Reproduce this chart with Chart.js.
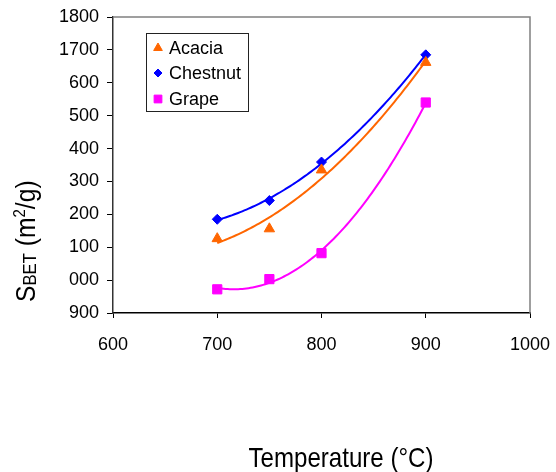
<!DOCTYPE html>
<html>
<head>
<meta charset="utf-8">
<script src="https://cdn.jsdelivr.net/npm/chart.js@4/dist/chart.umd.min.js"></script>
<style>
  html, body { margin: 0; padding: 0; background: #fff; }
  canvas { display: block; }
</style>
</head>
<body>
<canvas id="bet-chart" width="556" height="472"></canvas>
<script>
// Temperaturas de activación (°C)
const temperatures = [700, 750, 800, 900];

// Superficie BET de cada carbón
const acacia = [1126, 1156, 1335, 1662];
const chestnut = [1185, 1242, 1359, 1685];
const grape = [972, 1003, 1082, 1540];

// Etiquetas de los ejes tal como aparecen
const xTickValues = [600, 700, 800, 900, 1000];
const yTickValues = [900, 1000, 1100, 1200, 1300, 1400, 1500, 1600, 1700, 1800];
const yTickLabels = ['900', '000', '100', '200', '300', '400', '500', '600', '1700', '1800'];

const FONT = '"Liberation Sans", Arial, sans-serif';

const series = [
    { label: 'Acacia', values: acacia, color: '#FF6600', style: 'triangle', radius: 6 },
    { label: 'Chestnut', values: chestnut, color: '#0000FF', style: 'rectRot', radius: 5 },
    { label: 'Grape', values: grape, color: '#FF00FF', style: 'rect', radius: 6.5 }
];

// Ajuste polinómico de orden 2 por mínimos cuadrados
function quadFit(xs, ys) {
    const n = xs.length;
    const x0 = 800;
    let s = [0, 0, 0, 0, 0], t = [0, 0, 0];
    for (let i = 0; i < n; i++) {
        const u = (xs[i] - x0) / 100;
        for (let k = 0; k < 5; k++) s[k] += Math.pow(u, k);
        for (let k = 0; k < 3; k++) t[k] += ys[i] * Math.pow(u, k);
    }
    const m = [
        [s[0], s[1], s[2], t[0]],
        [s[1], s[2], s[3], t[1]],
        [s[2], s[3], s[4], t[2]]
    ];
    for (let c = 0; c < 3; c++) {
        for (let r = c + 1; r < 3; r++) {
            const f = m[r][c] / m[c][c];
            for (let k = c; k < 4; k++) m[r][k] -= f * m[c][k];
        }
    }
    const coef = [0, 0, 0];
    for (let r = 2; r >= 0; r--) {
        let v = m[r][3];
        for (let k = r + 1; k < 3; k++) v -= m[r][k] * coef[k];
        coef[r] = v / m[r][r];
    }
    return x => {
        const u = (x - x0) / 100;
        return coef[0] + coef[1] * u + coef[2] * u * u;
    };
}

// Curvas de tendencia dibujadas con las escalas del gráfico
const trendPlugin = {
    id: 'trend',
    beforeDatasetsDraw(chart) {
        const { ctx, scales: { x, y }, chartArea } = chart;
        ctx.save();
        ctx.beginPath();
        ctx.rect(chartArea.left, chartArea.top, chartArea.width, chartArea.height);
        ctx.clip();
        series.forEach(s => {
            const f = quadFit(temperatures, s.values);
            const x1 = temperatures[0], x2 = temperatures[temperatures.length - 1];
            ctx.beginPath();
            for (let t = x1; t <= x2; t += 2) {
                const px = x.getPixelForValue(t), py = y.getPixelForValue(f(t));
                if (t === x1) ctx.moveTo(px, py); else ctx.lineTo(px, py);
            }
            ctx.strokeStyle = s.color;
            ctx.lineWidth = 2;
            ctx.stroke();
        });
        ctx.restore();
    }
};

// Marco, leyenda y títulos de los ejes
const framePlugin = {
    id: 'frame',
    afterDraw(chart) {
        const { ctx, chartArea: a } = chart;
        ctx.save();

        // borde superior y derecho
        ctx.strokeStyle = '#808080';
        ctx.lineWidth = 1.5;
        ctx.beginPath();
        ctx.moveTo(a.left, a.top);
        ctx.lineTo(a.right, a.top);
        ctx.lineTo(a.right, a.bottom);
        ctx.stroke();

        // leyenda
        ctx.fillStyle = '#fff';
        ctx.fillRect(146.5, 33.5, 102, 78);
        ctx.strokeStyle = '#222';
        ctx.lineWidth = 1;
        ctx.strokeRect(146.5, 33.5, 102, 78);
        const rows = [48, 73, 99];
        series.forEach((s, i) => {
            ctx.fillStyle = s.color;
            ctx.strokeStyle = s.color;
            Chart.helpers.drawPoint(ctx, { pointStyle: s.style, radius: s.radius - 1, rotation: 0, borderWidth: 1 }, 158, rows[i]);
            ctx.fillStyle = '#000';
            ctx.font = '18px ' + FONT;
            ctx.textBaseline = 'middle';
            ctx.textAlign = 'left';
            ctx.fillText(s.label, 169, rows[i] + 1);
        });

        // título eje X
        ctx.fillStyle = '#000';
        ctx.textBaseline = 'alphabetic';
        ctx.textAlign = 'center';
        ctx.font = '28px ' + FONT;
        ctx.save();
        ctx.translate(341, 467);
        ctx.scale(0.86, 1);
        ctx.fillText('Temperature (°C)', 0, 0);
        ctx.restore();

        // título eje Y con subíndice y superíndice
        ctx.save();
        ctx.translate(35, 302);
        ctx.rotate(-Math.PI / 2);
        ctx.scale(0.88, 1);
        ctx.textAlign = 'left';
        const parts = [
            { t: 'S', size: 28, dy: 0 },
            { t: 'BET', size: 19, dy: 1 },
            { t: ' (m', size: 28, dy: 0 },
            { t: '2', size: 17, dy: -10 },
            { t: '/g)', size: 28, dy: 0 }
        ];
        let cx = 0;
        parts.forEach(p => {
            ctx.font = p.size + 'px ' + FONT;
            ctx.fillText(p.t, cx, p.dy);
            cx += ctx.measureText(p.t).width;
        });
        ctx.restore();

        ctx.restore();
    }
};

const ctx = document.getElementById('bet-chart').getContext('2d');

new Chart(ctx, {
    type: 'scatter',
    data: {
        datasets: series.map(s => ({
            label: s.label,
            data: temperatures.map((t, i) => ({ x: t, y: s.values[i] })),
            pointStyle: s.style,
            pointRadius: s.radius,
            pointHoverRadius: s.radius,
            backgroundColor: s.color,
            borderColor: s.color,
            borderWidth: 1,
            showLine: false
        }))
    },
    options: {
        responsive: false,
        animation: false,
        events: [],
        layout: { padding: { top: 17, right: 26, left: 0, bottom: 0 } },
        plugins: {
            legend: { display: false },
            title: { display: false },
            tooltip: { enabled: false }
        },
        scales: {
            x: {
                type: 'linear',
                min: 600,
                max: 1000,
                afterFit: scale => {
                    scale.height = 159;
                    scale.paddingLeft = 0;
                    scale.paddingRight = 0;
                },
                afterBuildTicks: scale => { scale.ticks = xTickValues.map(v => ({ value: v })); },
                ticks: {
                    color: '#000',
                    font: { family: FONT, size: 18 },
                    padding: 16,
                    callback: v => String(v)
                },
                grid: { drawOnChartArea: false, tickLength: 5, tickColor: '#000' },
                border: { color: '#000', width: 1.5 }
            },
            y: {
                type: 'linear',
                min: 900,
                max: 1800,
                afterFit: scale => {
                    scale.width = 113;
                    scale.paddingTop = 0;
                    scale.paddingBottom = 0;
                },
                afterBuildTicks: scale => { scale.ticks = yTickValues.map(v => ({ value: v })); },
                ticks: {
                    color: '#000',
                    font: { family: FONT, size: 18 },
                    padding: 8,
                    callback: v => yTickLabels[yTickValues.indexOf(v)]
                },
                grid: { drawOnChartArea: false, tickLength: 6, tickColor: '#000' },
                border: { color: '#333', width: 1.5 }
            }
        }
    },
    plugins: [trendPlugin, framePlugin]
});
</script>
</body>
</html>
